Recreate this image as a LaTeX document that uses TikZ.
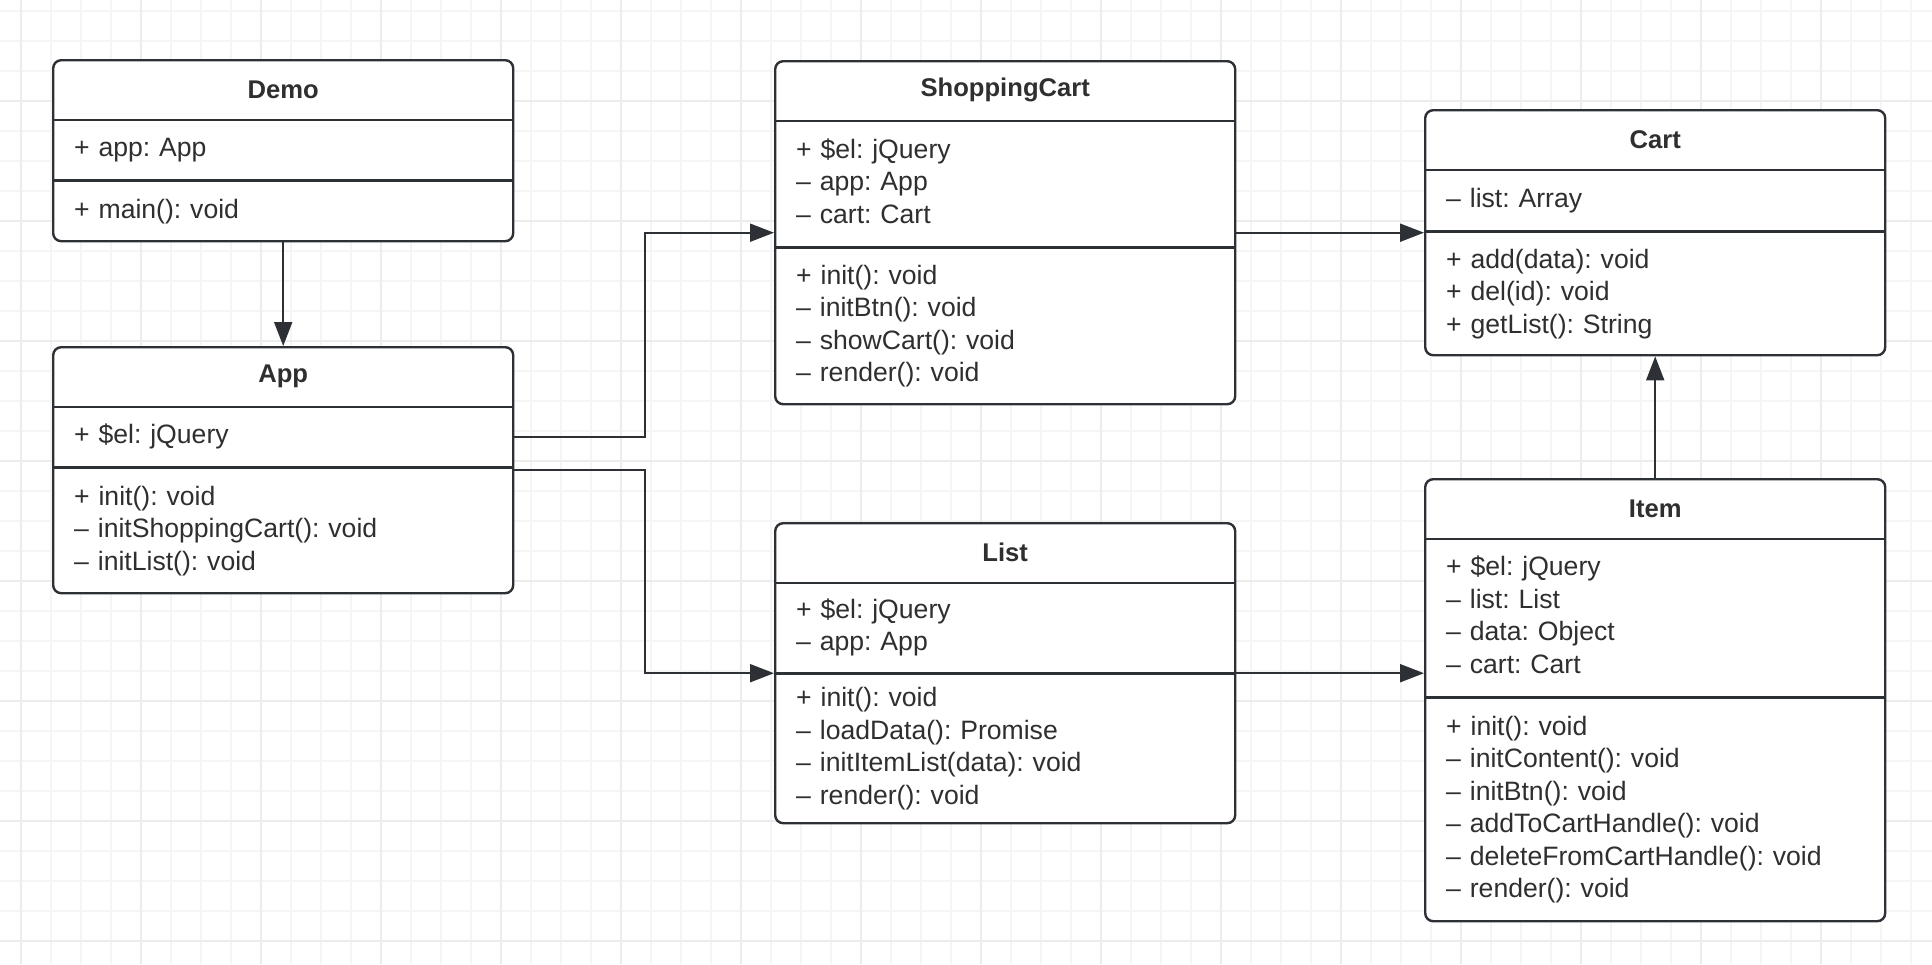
\documentclass[tikz,border=0pt]{standalone}
\usepackage{fontspec}
\setmainfont{Liberation Sans}
\usetikzlibrary{arrows.meta,positioning}
\frenchspacing
\definecolor{umlline}{HTML}{2D3136}
\definecolor{umltext}{HTML}{2F2F2F}
\definecolor{gridminor}{HTML}{F5F5F5}
\definecolor{gridmajor}{HTML}{ECECEC}

\tikzset{
  gridline/.style={draw=gridminor, line width=0.8pt},
  gridbold/.style={draw=gridmajor, line width=0.9pt},
  classframe/.style={draw=umlline, fill=white, line width=1.2pt, rounded corners=4pt,
    anchor=north west, minimum width=230pt, inner sep=0pt},
  classhead/.style={minimum width=230pt, minimum height=30pt, inner sep=0pt,
    text=umltext, font=\fontsize{12.8}{15}\selectfont\bfseries},
  classpart/.style={text width=209pt, inner xsep=10.5pt, inner ysep=0pt, align=left,
    text=umltext, font=\fontsize{13.3}{16.25}\selectfont,
    execute at begin node=\strut, execute at end node=\strut},
  divider/.style={draw=umlline, line width=1.2pt},
  assoc/.style={draw=umlline, line width=1pt, -{Triangle[length=12pt, width=9pt]}},
}

\begin{document}
\begin{tikzpicture}[x=0.5pt, y=-0.5pt]
    \useasboundingbox (0,0) rectangle (1932,964);
    \fill[white] (0,0) rectangle (1932,964);

    % grid
    \foreach \gx in {21,51,...,1911} \draw[gridline] (\gx,0) -- (\gx,964);
    \foreach \gy in {11,41,...,941} \draw[gridline] (0,\gy) -- (1932,\gy);
    \foreach \gx in {21,141,...,1821} \draw[gridbold] (\gx,0) -- (\gx,964);
    \foreach \gy in {101,221,...,941} \draw[gridbold] (0,\gy) -- (1932,\gy);

    % Demo
    \node[classframe, minimum height=90.5pt] (demo) at (52,59) {};
    \node[classhead, below=0pt of demo.north] (demoHead) {Demo};
    \node[classpart, minimum height=30pt, below=0pt of demoHead] (demoAttr) {+ app: App};
    \node[classpart, minimum height=30.5pt, below=0pt of demoAttr] (demoOps) {+ main(): void};

    % App
    \node[classframe, minimum height=123pt] (app) at (52,346) {};
    \node[classhead, below=0pt of app.north] (appHead) {App};
    \node[classpart, minimum height=30pt, below=0pt of appHead] (appAttr) {+ \$el: jQuery};
    \node[classpart, minimum height=63pt, below=0pt of appAttr] (appOps)
        {+ init(): void\\– initShoppingCart(): void\\– initList(): void};

    % ShoppingCart
    \node[classframe, minimum height=171.5pt] (shop) at (774,60) {};
    \node[classhead, below=0pt of shop.north] (shopHead) {ShoppingCart};
    \node[classpart, minimum height=63pt, below=0pt of shopHead] (shopAttr)
        {+ \$el: jQuery\\– app: App\\– cart: Cart};
    \node[classpart, minimum height=78.5pt, below=0pt of shopAttr] (shopOps)
        {+ init(): void\\– initBtn(): void\\– showCart(): void\\– render(): void};

    % Cart
    \node[classframe, minimum height=122.5pt] (cart) at (1424,109) {};
    \node[classhead, below=0pt of cart.north] (cartHead) {Cart};
    \node[classpart, minimum height=30.5pt, below=0pt of cartHead] (cartAttr) {– list: Array};
    \node[classpart, minimum height=62pt, below=0pt of cartAttr] (cartOps)
        {+ add(data): void\\+ del(id): void\\+ getList(): String};

    % List
    \node[classframe, minimum height=150pt] (list) at (774,522) {};
    \node[classhead, below=0pt of list.north] (listHead) {List};
    \node[classpart, minimum height=45pt, below=0pt of listHead] (listAttr)
        {+ \$el: jQuery\\– app: App};
    \node[classpart, minimum height=75pt, below=0pt of listAttr] (listOps)
        {+ init(): void\\– loadData(): Promise\\– initItemList(data): void\\– render(): void};

    % Item
    \node[classframe, minimum height=221pt] (item) at (1424,478) {};
    \node[classhead, below=0pt of item.north] (itemHead) {Item};
    \node[classpart, minimum height=79pt, below=0pt of itemHead] (itemAttr)
        {+ \$el: jQuery\\– list: List\\– data: Object\\– cart: Cart};
    \node[classpart, minimum height=112pt, below=0pt of itemAttr] (itemOps)
        {+ init(): void\\– initContent(): void\\– initBtn(): void\\– addToCartHandle(): void\\– deleteFromCartHandle(): void\\– render(): void};

    % compartment lines
    \foreach \cls in {demo,app,shop,cart,list,item} {
        \draw[divider] (\cls Attr.north west) -- (\cls Attr.north east);
        \draw[divider] (\cls Ops.north west) -- (\cls Ops.north east);
    }

    % associations
    \draw[assoc] (demo.south) -- (app.north);
    \draw[assoc] (appAttr.east) -- ++(131,0) |- (shop.west);
    \draw[assoc] (app.east) -- ++(131,0) |- (list.west);
    \draw[assoc] (shop.east) -- (cart.west);
    \draw[assoc] (list.east) -- (list.east -| item.west);
    \draw[assoc] (item.north) -- (cart.south);
\end{tikzpicture}
\end{document}
